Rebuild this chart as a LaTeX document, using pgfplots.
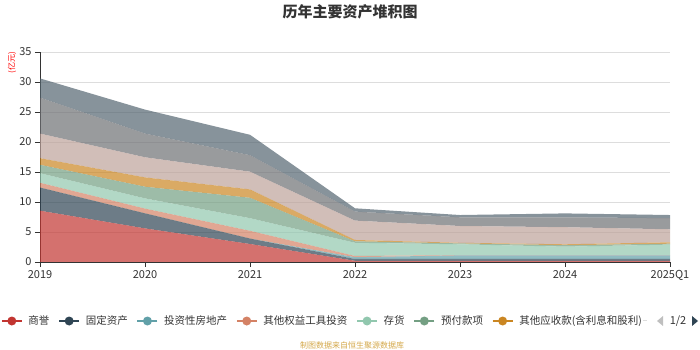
\documentclass[border=0pt]{standalone}
\usepackage{fontspec}
\setmainfont{Noto Sans CJK SC}
\usepackage{pgfplots}
\usepackage{pgfplotstable}
\pgfplotsset{compat=1.18}
\definecolor{c1}{HTML}{C23531}
\definecolor{c2}{HTML}{2F4554}
\definecolor{c3}{HTML}{61A0A8}
\definecolor{c4}{HTML}{D48265}
\definecolor{c5}{HTML}{91C7AE}
\definecolor{c6}{HTML}{749F83}
\definecolor{c7}{HTML}{CA8622}
\definecolor{c8}{HTML}{BDA29A}
\definecolor{c9}{HTML}{6E7074}
\definecolor{c10}{HTML}{546570}
\definecolor{txt}{HTML}{333333}
\definecolor{gridc}{HTML}{DDDDDD}
\definecolor{foot}{HTML}{D4A84A}

\pgfplotstableread{
x s1 s2 s3 s4 s5 s6 s7 s8 s9 s10
0 8.55 3.85 0.00 0.80 1.60 1.40 1.10 4.10 6.00 3.20
1 5.60 2.50 0.00 0.80 1.70 1.95 1.55 3.35 3.95 4.00
2 3.00 0.90 0.00 1.30 2.10 3.40 1.40 2.95 2.75 3.40
3 0.20 0.30 0.30 0.20 2.20 0.25 0.22 3.23 1.50 0.55
4 0.20 0.30 0.60 0.05 1.80 0.15 0.10 2.80 1.45 0.38
5 0.20 0.30 0.60 0.05 1.40 0.25 0.15 2.85 1.65 0.65
6 0.20 0.30 0.60 0.05 1.75 0.15 0.23 2.17 1.85 0.53
}\data

\pgfplotsset{
  leg/.style={legend image code/.code={
    \draw[#1,line width=1.3pt,opacity=1] (0pt,0pt)--(20pt,0pt);
    \fill[#1,opacity=1] (10pt,0pt) circle (4.5pt);}},
  ar/.style={fill=#1, fill opacity=0.7, draw=none, leg=#1},
}

\begin{document}
\begin{tikzpicture}[x=1pt,y=1pt]
\useasboundingbox (0,0) rectangle (700,350);
\begin{axis}[
  at={(40pt,88pt)}, anchor=south west,
  width=630pt, height=210pt, scale only axis,
  xmin=0, xmax=6, ymin=0, ymax=35,
  xtick={0,1,2,3,4,5,6},
  xticklabels={2019,2020,2021,2022,2023,2024,2025Q1},
  ytick={0,5,10,15,20,25,30,35},
  stack plots=y,
  axis x line*=bottom, axis y line*=left,
  axis line style={-, draw=txt, line width=0.7pt},
  tick align=outside, major tick length=5pt,
  tick style={draw=txt, line width=0.7pt},
  ymajorgrids, grid style={draw=gridc, line width=0.7pt},
  ticklabel style={font=\fontsize{11}{12}\selectfont, text=txt},
  /pgf/number format/assume math mode=true,
  legend columns=-1,
  legend style={at={(-0.0619,-0.281)}, anchor=west, draw=none, fill=none,
    inner sep=0pt, font=\fontsize{10.5}{12}\selectfont, text=txt,
    nodes={inner sep=0pt, anchor=west},
    /tikz/every odd column/.append style={column sep=6pt},
    /tikz/every even column/.append style={column sep=9pt}},
  legend cell align=left,
]
\addplot[ar=c1] table[x=x,y=s1]{\data} \closedcycle;
\addplot[ar=c2] table[x=x,y=s2]{\data} \closedcycle;
\addplot[ar=c3] table[x=x,y=s3]{\data} \closedcycle;
\addplot[ar=c4] table[x=x,y=s4]{\data} \closedcycle;
\addplot[ar=c5] table[x=x,y=s5]{\data} \closedcycle;
\addplot[ar=c6] table[x=x,y=s6]{\data} \closedcycle;
\addplot[ar=c7] table[x=x,y=s7]{\data} \closedcycle;
\addplot[ar=c8] table[x=x,y=s8]{\data} \closedcycle;
\addplot[ar=c9] table[x=x,y=s9]{\data} \closedcycle;
\addplot[ar=c10] table[x=x,y=s10]{\data} \closedcycle;
\legend{商誉,固定资产,投资性房地产,其他权益工具投资,存货,预付款项,其他应收款(含利息和股利)}
\end{axis}
\node[font=\bfseries\fontsize{15}{16}\selectfont, text=txt] at (350,338) {历年主要资产堆积图};
\node[font=\fontsize{8}{9}\selectfont, text=red, rotate=90] at (12,287) {(亿元)};
\node[font=\fontsize{8}{9}\selectfont, text=foot] at (352,5) {制图数据来自恒生聚源数据库};
\draw[gridc, line width=1pt] (643,29) -- (647,29);
\fill[black!25] (657,29) -- (663,34) -- (663,24) -- cycle;
\node[font=\fontsize{11}{12}\selectfont, text=txt, inner sep=0pt] at (678,29) {1/2};
\fill[c2] (698,29) -- (692,34) -- (692,24) -- cycle;
\end{tikzpicture}
\end{document}
